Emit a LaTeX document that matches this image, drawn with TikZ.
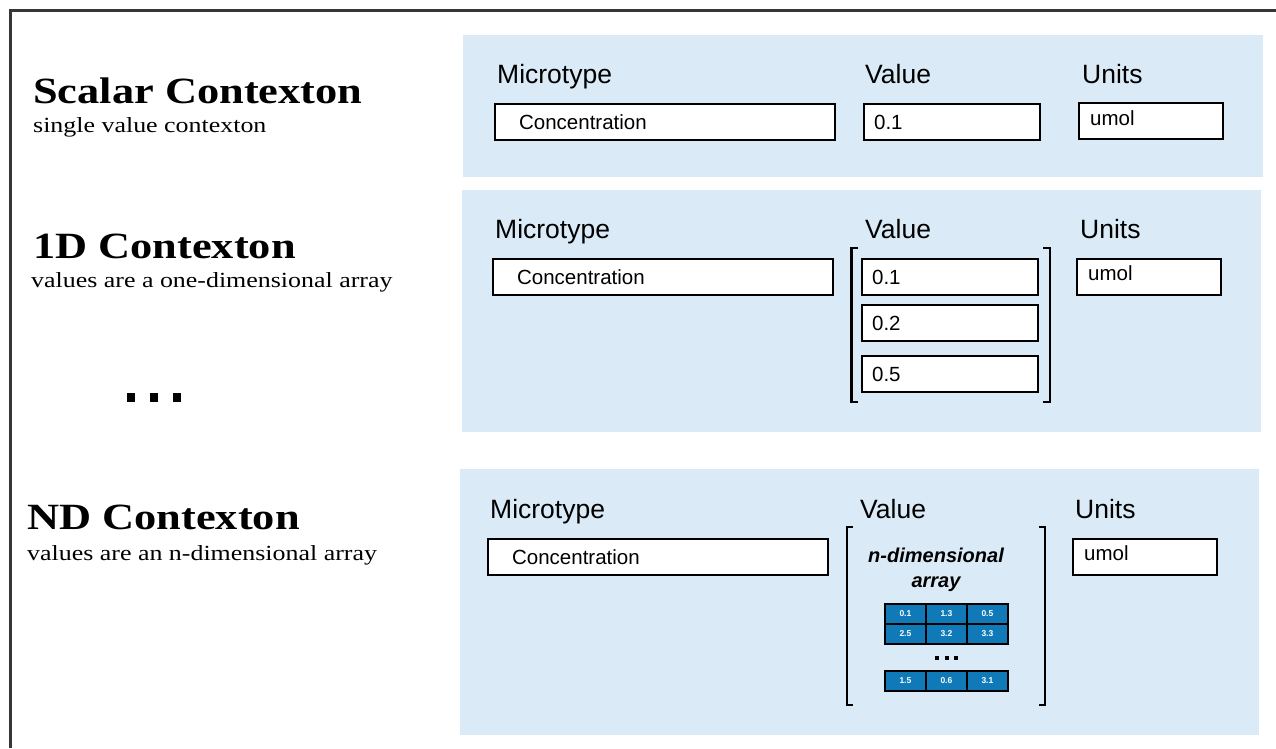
\documentclass[tikz,border=0pt]{standalone}
\usepackage{fontspec}
\setmainfont{Liberation Serif}
\newfontfamily\titlefont[FakeStretch=1.2]{Liberation Serif}
\newfontfamily\arialf{Liberation Sans}
\definecolor{panelblue}{RGB}{218,235,247}
\definecolor{cellblue}{RGB}{16,122,185}
\definecolor{framegray}{RGB}{55,55,55}
\tikzset{
 panel/.style={fill=panelblue, draw=none, anchor=north west, inner sep=0pt},
 titletext/.style={anchor=base west, inner sep=0pt, font=\titlefont\fontsize{37}{40}\selectfont\bfseries},
 subtext/.style={anchor=base west, inner sep=0pt, font=\titlefont\fontsize{21.6}{24}\selectfont},
 headtext/.style={anchor=base west, inner sep=0pt, font=\arialf\fontsize{26.5}{28}\selectfont},
 field/.style={draw=black, line width=2.2pt, fill=white, anchor=north west, minimum height=36pt, align=left, inner ysep=0pt, font=\arialf\fontsize{20.5}{22}\selectfont},
 wide/.style={text width=292pt, inner xsep=24pt},
 valf/.style={text width=156pt, inner xsep=10pt},
 unitf/.style={text width=120pt, inner xsep=12pt},
 unittext/.style={anchor=base west, inner sep=0pt, font=\arialf\fontsize{20.5}{22}\selectfont},
 cell/.style={draw=black, line width=1.8pt, fill=cellblue, anchor=north west, minimum width=41pt, minimum height=20pt, inner sep=0pt, text=white, font=\arialf\fontsize{8.5}{9}\selectfont\bfseries},
 brk/.style={line width=2.5pt},
 dot/.style={fill=black, draw=none}
}
\begin{document}
\begin{tikzpicture}[x=1pt,y=-1pt]
\useasboundingbox (0,0) rectangle (1276,748);
\fill[white] (0,0) rectangle (1276,748);
% frame
\draw[framegray, line width=3pt] (10,748) -- (10,10) -- (1276,10);
% panels
\node[panel, minimum width=800pt, minimum height=142pt] (p1) at (463,35) {};
\node[panel, minimum width=799pt, minimum height=242pt] (p2) at (462,190) {};
\node[panel, minimum width=799pt, minimum height=266pt] (p3) at (460,469) {};
% left titles
\node[titletext] (t1) at (33,103) {Scalar Contexton};
\node[subtext] (s1) at (33,132) {single value contexton};
\node[titletext] (t2) at (33,258) {1D Contexton};
\node[subtext] (s2) at (31,287) {values are a one-dimensional array};
\node[titletext] (t3) at (27,529) {ND Contexton};
\node[subtext] (s3) at (27,560) {values are an n-dimensional array};
% left ellipsis
\fill[dot] (127,393) rectangle (135,402);
\fill[dot] (150,393) rectangle (158,402);
\fill[dot] (173,393) rectangle (181,402);
% scalar row
\node[headtext] (h1a) at (497,83) {Microtype};
\node[headtext] (h1b) at (865,83) {Value};
\node[headtext] (h1c) at (1082,83) {Units};
\node[field, wide] (m1) at (494,103) {Concentration};
\node[field, valf] (v1) at (863,103) {0.1};
\node[field, unitf] (u1) at (1078,102) {};
\node[unittext] (u1t) at (1090,125) {umol};
% 1D row
\node[headtext] (h2a) at (495,238) {Microtype};
\node[headtext] (h2b) at (865,238) {Value};
\node[headtext] (h2c) at (1080,238) {Units};
\node[field, wide] (m2) at (492,258) {Concentration};
\node[field, valf] (v2a) at (861,258) {0.1};
\node[field, valf] (v2b) at (861,304) {0.2};
\node[field, valf] (v2c) at (861,355) {0.5};
\node[field, unitf] (u2) at (1076,258) {};
\node[unittext] (u2t) at (1088,280) {umol};
\draw[brk] (858,248) -- (851.5,248) -- (851.5,402) -- (858,402);
\draw[brk] (1043,248) -- (1050,248) -- (1050,402) -- (1043,402);
% ND row
\node[headtext] (h3a) at (490,518) {Microtype};
\node[headtext] (h3b) at (860,518) {Value};
\node[headtext] (h3c) at (1075,518) {Units};
\node[field, wide] (m3) at (487,538) {Concentration};
\node[field, unitf] (u3) at (1072,538) {};
\node[unittext] (u3t) at (1072,560) {\hspace{12pt}umol};
\draw[brk] (853,527) -- (847,527) -- (847,705) -- (853,705);
\draw[brk] (1039,527) -- (1045,527) -- (1045,705) -- (1039,705);
\node[align=center, inner sep=0pt, font=\arialf\fontsize{20}{25}\selectfont\bfseries\itshape] (nd) at (936,570) {n-dimensional\\array};
\node[cell] (c11) at (884,603) {0.1};
\node[cell] (c12) at (925,603) {1.3};
\node[cell] (c13) at (966,603) {0.5};
\node[cell] (c21) at (884,623) {2.5};
\node[cell] (c22) at (925,623) {3.2};
\node[cell] (c23) at (966,623) {3.3};
\fill[dot] (935,656) rectangle (939,660);
\fill[dot] (945,656) rectangle (949,660);
\fill[dot] (954,656) rectangle (958,660);
\node[cell] (c31) at (884,670) {1.5};
\node[cell] (c32) at (925,670) {0.6};
\node[cell] (c33) at (966,670) {3.1};
\end{tikzpicture}
\end{document}
